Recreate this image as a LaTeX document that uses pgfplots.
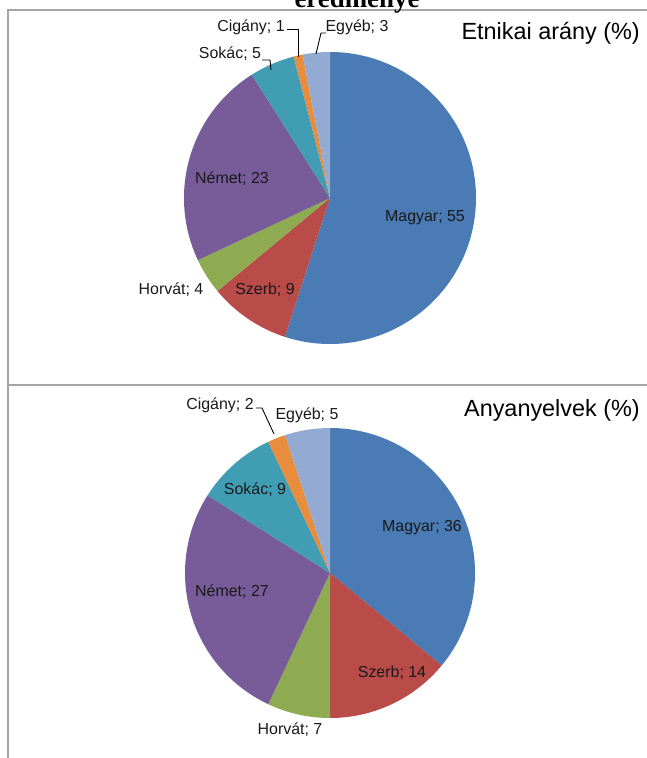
\documentclass[border=0pt]{standalone}
\usepackage{pgfplots}
\pgfplotsset{compat=1.18}
\usepackage{pgfplotstable}
\usepackage{fontspec}
\setmainfont{Liberation Sans}
\newfontfamily\titleserif{Liberation Serif}

\definecolor{cMagyar}{HTML}{4A7BB4}
\definecolor{cSzerb}{HTML}{B94B48}
\definecolor{cHorvat}{HTML}{8EAB52}
\definecolor{cNemet}{HTML}{785C99}
\definecolor{cSokac}{HTML}{409DB4}
\definecolor{cCigany}{HTML}{E88C3E}
\definecolor{cEgyeb}{HTML}{93AAD2}
\definecolor{frame}{HTML}{A6A6A6}

\newcommand\labfont{\fontsize{16}{18}\selectfont}
\newcommand\ttlfont{\fontsize{23.5}{27}\selectfont}

% slices in clockwise order from 12 o'clock; lx ly = label centre (px, y down)
\pgfplotstableread{
nev    ertek szin    lx  ly
Magyar 55    cMagyar 425 218
Szerb  9     cSzerb  265 290
Horvát 4     cHorvat 171 290
Német  23    cNemet  232 179
Sokác  5     cSokac  230 54
Cigány 1     cCigany 251 27
Egyéb  3     cEgyeb  357 27
}\etnikai

\pgfplotstableread{
nev    ertek szin    lx  ly
Magyar 36    cMagyar 422 528
Szerb  14    cSzerb  392 673
Horvát 7     cHorvat 290 730
Német  27    cNemet  232 592
Sokác  9     cSokac  255 490
Cigány 2     cCigany 220 405
Egyéb  5     cEgyeb  307 415
}\anyanyelv

% #1 table, #2 #3 centre, #4 radius (bp)
\newcommand\drawpie[4]{%
  \pgfplotstablegetrowsof{#1}%
  \pgfmathtruncatemacro\lastrow{\pgfplotsretval-1}%
  \def\cum{0}%
  \pgfplotsforeachungrouped \i in {0,...,\lastrow}{%
    \pgfplotstablegetelem{\i}{ertek}\of{#1}\let\val\pgfplotsretval
    \pgfplotstablegetelem{\i}{szin}\of{#1}\let\col\pgfplotsretval
    \pgfmathsetmacro\aS{90-3.6*\cum}%
    \pgfmathsetmacro\aE{90-3.6*(\cum+\val)}%
    \edef\temp{\noexpand\fill[\col] (axis cs:#2,#3) -- ++(\aS:#4bp)
      arc[start angle=\aS, end angle=\aE, radius=#4bp] -- cycle;}%
    \temp
    \pgfmathsetmacro\cum{\cum+\val}%
  }%
  \pgfplotsforeachungrouped \i in {0,...,\lastrow}{%
    \pgfplotstablegetelem{\i}{ertek}\of{#1}\let\val\pgfplotsretval
    \pgfplotstablegetelem{\i}{nev}\of{#1}\let\nev\pgfplotsretval
    \pgfplotstablegetelem{\i}{lx}\of{#1}\let\lx\pgfplotsretval
    \pgfplotstablegetelem{\i}{ly}\of{#1}\let\ly\pgfplotsretval
    \edef\temp{\noexpand\node[font=\noexpand\labfont, text=black!90, inner sep=0pt]
      at (axis cs:\lx,\ly) {\nev; \val};}%
    \temp
  }%
}

\begin{document}
\begin{tikzpicture}
\begin{axis}[
  name=ax,
  x=1bp, y=1bp,
  xmin=0, xmax=647, ymin=0, ymax=758,
  y dir=reverse,
  hide axis, clip=false,
]
  % frames
  \draw[frame, line width=1.6bp] (axis cs:8,760) -- (axis cs:8,10) -- (axis cs:650,10);
  \draw[frame, line width=1.6bp] (axis cs:8,385) -- (axis cs:650,385);

  % cut-off heading above the chart
  \node[font=\titleserif\bfseries\fontsize{27}{30}\selectfont, anchor=base]
    at (axis cs:357,8) {eredménye};

  \drawpie{\etnikai}{330}{198}{146}
  \drawpie{\anyanyelv}{330}{573}{145}

  \node[font=\ttlfont, anchor=east, inner sep=0pt] at (axis cs:640,33) {Etnikai arány (\%)};
  \node[font=\ttlfont, anchor=east, inner sep=0pt] at (axis cs:640,410) {Anyanyelvek (\%)};

  % leader lines
  \draw[black, line width=0.9bp] (axis cs:287,29) -- (axis cs:298,29) -- (axis cs:298,57);
  \draw[black, line width=0.9bp] (axis cs:326,33) -- (axis cs:321,33) -- (axis cs:316,54);
  \draw[black, line width=0.9bp] (axis cs:262,60) -- (axis cs:270,60) -- (axis cs:271,70);
  \draw[black, line width=0.9bp] (axis cs:256,408) -- (axis cs:262,408) -- (axis cs:274,434);
\end{axis}
\pgfresetboundingbox
\useasboundingbox (ax.south west) rectangle (ax.north east);
\end{tikzpicture}
\end{document}
